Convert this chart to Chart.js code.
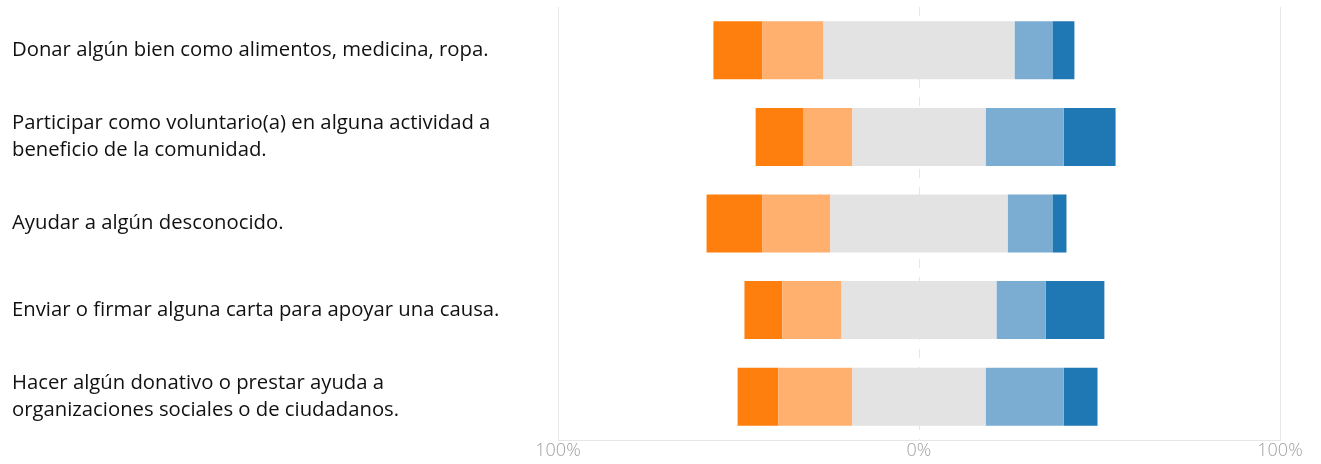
<!DOCTYPE html>
<html lang="es">
<head>
  <meta charset="UTF-8">
  <title>Participación ciudadana</title>
  <style>
    body { margin: 0; padding: 0; background: #fff; }
    #wrap { width: 1321px; height: 464px; position: relative; }
  </style>
  <script src="https://cdn.jsdelivr.net/npm/chart.js"></script>
</head>
<body>
  <div id="wrap"><canvas id="grafico"></canvas></div>

  <script>
    // Preguntas (eje vertical)
    const preguntas = [
      "Donar algún bien como alimentos, medicina, ropa.",
      ["Participar como voluntario(a) en alguna actividad a", "beneficio de la comunidad."],
      "Ayudar a algún desconocido.",
      "Enviar o firmar alguna carta para apoyar una causa.",
      ["Hacer algún donativo o prestar ayuda a", "organizaciones sociales o de ciudadanos."]
    ];

    // Porcentajes por respuesta
    const nunca        = [13.6, 13.3, 15.5, 10.5, 11.3];
    const casiNunca    = [16.9, 13.5, 18.8, 16.4, 20.5];
    const neutral      = [52.9, 36.9, 49.1, 42.9, 36.9];
    const aVeces       = [10.5, 21.6, 12.4, 13.6, 21.6];
    const frecuente    = [6.1, 14.4, 3.9, 16.3, 9.4];

    const ticksX = [-100, 0, 100];

    const colores = {
      nunca: '#ff7f0e',
      casiNunca: '#ffb06e',
      neutral: '#e3e3e3',
      aVeces: '#7badd3',
      frecuente: '#1f77b4'
    };

    const grid = '#e6e6e6';

    // barras flotantes [inicio, fin]; el neutral queda centrado en el 0
    const rangos = (fn) => neutral.map((n, i) => fn(n / 2, i));
    const datasets = [
      { label: 'Neutral', data: rangos((h) => [-h, h]), backgroundColor: colores.neutral },
      { label: 'Casi nunca', data: rangos((h, i) => [-h - casiNunca[i], -h]), backgroundColor: colores.casiNunca },
      { label: 'Nunca', data: rangos((h, i) => [-h - casiNunca[i] - nunca[i], -h - casiNunca[i]]), backgroundColor: colores.nunca },
      { label: 'A veces', data: rangos((h, i) => [h, h + aVeces[i]]), backgroundColor: colores.aVeces },
      { label: 'Frecuentemente', data: rangos((h, i) => [h + aVeces[i], h + aVeces[i] + frecuente[i]]), backgroundColor: colores.frecuente }
    ];

    // línea punteada en el 0
    const lineaCero = {
      id: 'lineaCero',
      beforeDatasetsDraw(chart) {
        const { ctx, chartArea, scales } = chart;
        const x = Math.round(scales.x.getPixelForValue(0)) + 0.5;
        ctx.save();
        ctx.strokeStyle = grid;
        ctx.lineWidth = 1;
        ctx.setLineDash([9, 9]);
        ctx.beginPath();
        ctx.moveTo(x, chartArea.top);
        ctx.lineTo(x, chartArea.bottom);
        ctx.stroke();
        ctx.restore();
      }
    };

    new Chart(document.getElementById('grafico'), {
      type: 'bar',
      data: { labels: preguntas, datasets: datasets },
      plugins: [lineaCero],
      options: {
        indexAxis: 'y',
        responsive: true,
        maintainAspectRatio: false,
        animation: false,
        layout: { padding: { left: 12, right: 41, top: 7, bottom: 0 } },
        datasets: { bar: { grouped: false, barPercentage: 0.67, categoryPercentage: 1, borderWidth: 0 } },
        plugins: {
          legend: { display: false },
          tooltip: { enabled: false }
        },
        scales: {
          x: {
            min: -100,
            max: 100,
            afterBuildTicks: s => { s.ticks = ticksX.map(v => ({ value: v })); },
            afterFit: s => { s.height = 24; },
            grid: {
              color: c => (c.tick && c.tick.value === 0) ? 'rgba(0,0,0,0)' : grid,
              drawTicks: false
            },
            border: { display: true, color: grid },
            ticks: {
              padding: 1,
              color: '#a0a0a0',
              font: { family: 'Open Sans', size: 18, weight: 300, lineHeight: 1.1 },
              showLabelBackdrop: true,
              backdropColor: '#fff',
              backdropPadding: { left: 2, right: 2, top: 0, bottom: 0 },
              callback: v => Math.abs(v) + '%'
            }
          },
          y: {
            afterFit: s => {
              s.width = 546;
              // sin relleno extra arriba/abajo por las etiquetas de dos líneas
              s.paddingTop = 0;
              s.paddingBottom = 0;
            },
            grid: { display: false },
            border: { display: false },
            ticks: {
              crossAlign: 'far',
              padding: 0,
              color: '#111',
              font: { family: 'Open Sans', size: 20.3, lineHeight: 1.31 }
            }
          }
        }
      }
    });
  </script>
</body>
</html>
